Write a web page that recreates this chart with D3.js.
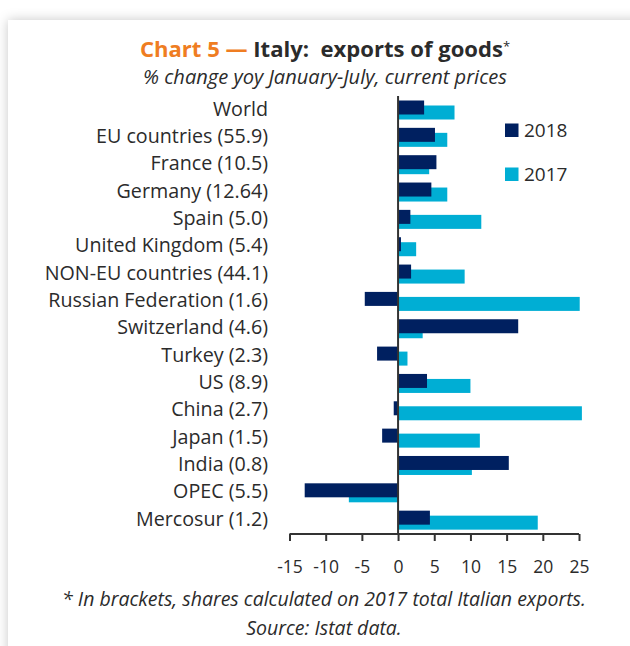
<!DOCTYPE html>
<html>
<head>
<meta charset="utf-8">
<script src="https://cdn.jsdelivr.net/npm/d3@7"></script>
<style>
  html, body { margin: 0; padding: 0; background: #ffffff; }
  svg { display: block; }
</style>
</head>
<body>
<svg id="chart" width="630" height="646"></svg>
<script>
// Categories (share of 2017 Italian exports in brackets)
const categories = [
  "World",
  "EU countries (55.9)",
  "France (10.5)",
  "Germany (12.64)",
  "Spain (5.0)",
  "United Kingdom (5.4)",
  "NON-EU countries (44.1)",
  "Russian Federation (1.6)",
  "Switzerland (4.6)",
  "Turkey (2.3)",
  "US (8.9)",
  "China (2.7)",
  "Japan (1.5)",
  "India (0.8)",
  "OPEC (5.5)",
  "Mercosur (1.2)"
];

// % change yoy, January-July
const values2018 = [3.6, 5.1, 5.3, 4.6, 1.7, 0.4, 1.8, -4.6, 16.6, -2.9, 4.0, -0.6, -2.2, 15.3, -12.9, 4.4];
const values2017 = [7.8, 6.8, 4.3, 6.8, 11.5, 2.5, 9.2, 25.1, 3.4, 1.3, 10.0, 25.4, 11.3, 10.2, -6.8, 19.3];

const xTicks = [-15, -10, -5, 0, 5, 10, 15, 20, 25];
const seriesNames = ["2018", "2017"];

const colors = { "2018": "#002060", "2017": "#00aed4" };
const textColor = "#2b2b2b";
const fontFamily = "'Open Sans', Lato, sans-serif";

const svg = d3.select("#chart");

// Fit a text element's font size so it spans the given width
function fitWidth(sel, target) {
  const node = sel.node();
  const size = parseFloat(sel.attr("font-size"));
  const w = node.getComputedTextLength();
  if (w > 0) sel.attr("font-size", (size * target / w).toFixed(2));
  return sel;
}

// Card with soft shadow along top and left edges
const defs = svg.append("defs");
const shadow = defs.append("filter").attr("id", "cardShadow")
  .attr("x", "-10%").attr("y", "-10%").attr("width", "130%").attr("height", "130%");
shadow.append("feDropShadow")
  .attr("dx", 0).attr("dy", 0).attr("stdDeviation", 6)
  .attr("flood-color", "#000").attr("flood-opacity", 0.22);

svg.append("rect").attr("x", 0).attr("y", 0).attr("width", 630).attr("height", 646).attr("fill", "#ffffff");
svg.append("rect")
  .attr("x", 8).attr("y", 20).attr("width", 700).attr("height", 700)
  .attr("fill", "#ffffff").attr("filter", "url(#cardShadow)");

// Title
const title = svg.append("text")
  .attr("x", 325).attr("y", 57)
  .attr("text-anchor", "middle")
  .attr("font-family", fontFamily)
  .attr("font-weight", 700)
  .attr("font-size", 20);
title.append("tspan").attr("fill", "#ef7d22").text("Chart 5 \u2014 ");
title.append("tspan").attr("fill", textColor).text("Italy:\u00a0 exports of goods");
title.append("tspan").attr("fill", textColor).attr("font-weight", 400)
  .attr("font-size", 13).attr("dy", -6).text("*");
fitWidth(title, 371);

const subtitle = svg.append("text")
  .attr("x", 325).attr("y", 84)
  .attr("text-anchor", "middle")
  .attr("font-family", fontFamily)
  .attr("font-style", "italic")
  .attr("font-size", 16)
  .attr("fill", textColor)
  .text("% change yoy January-July, current prices");
fitWidth(subtitle, 364);

// Scales
const x = d3.scaleLinear().domain([-15, 25]).range([289.5, 579]);
const y = d3.scaleBand().domain(categories).range([96.5, 534]).padding(0);

const barH = 14;
const offset2018 = 4;
const offset2017 = 9;

const rows = categories.map((c, i) => ({ cat: c, v2018: values2018[i], v2017: values2017[i] }));

// 2017 bars (behind)
svg.append("g").selectAll("rect")
  .data(rows).join("rect")
  .attr("x", d => x(Math.min(0, d.v2017)))
  .attr("y", d => y(d.cat) + offset2017)
  .attr("width", d => Math.abs(x(d.v2017) - x(0)))
  .attr("height", barH)
  .attr("fill", colors["2017"]);

// 2018 bars (front)
svg.append("g").selectAll("rect")
  .data(rows).join("rect")
  .attr("x", d => x(Math.min(0, d.v2018)))
  .attr("y", d => y(d.cat) + offset2018)
  .attr("width", d => Math.abs(x(d.v2018) - x(0)))
  .attr("height", barH)
  .attr("fill", colors["2018"]);

// Zero line
svg.append("line")
  .attr("x1", x(0)).attr("x2", x(0))
  .attr("y1", 96).attr("y2", 534)
  .attr("stroke", "#333").attr("stroke-width", 2);

// Category labels
const labels = svg.append("g").selectAll("text")
  .data(categories).join("text")
  .attr("x", 268)
  .attr("y", d => y(d) + 19)
  .attr("text-anchor", "end")
  .attr("font-family", fontFamily)
  .attr("font-size", 16.5)
  .attr("fill", textColor)
  .text(d => d);
// common size so that "EU countries (55.9)" spans about 172px
{
  const ref = labels.filter(d => d === "EU countries (55.9)");
  const w = ref.node().getComputedTextLength();
  const s = (16.5 * 172 / w).toFixed(2);
  labels.attr("font-size", s);
}

// X axis
const xAxis = d3.axisBottom(x).tickValues(xTicks).tickSize(7).tickPadding(20).tickFormat(d3.format("d"));
const gx = svg.append("g").attr("transform", "translate(0,534)").call(xAxis);
gx.select(".domain").attr("stroke", "#333").attr("stroke-width", 2).attr("d", `M${x(-15)},0H${x(25)}`);
gx.selectAll(".tick line").attr("stroke", "#333").attr("stroke-width", 2);
gx.selectAll(".tick text")
  .attr("font-family", fontFamily)
  .attr("font-size", 17.5)
  .attr("fill", textColor)
  .text(d => d < 0 ? "-" + Math.abs(d) : d);

// Legend
const legend = svg.append("g");
seriesNames.forEach((s, i) => {
  const ly = 123.5 + i * 44;
  legend.append("rect").attr("x", 505).attr("y", ly).attr("width", 13.5).attr("height", 13.5).attr("fill", colors[s]);
  legend.append("text")
    .attr("x", 524).attr("y", ly + 13.5)
    .attr("font-family", fontFamily).attr("font-size", 19)
    .attr("fill", textColor).text(s);
});

// Footnote
const foot = ["* In brackets, shares calculated on 2017 total Italian exports.", "Source: Istat data."];
const footText = svg.append("g").selectAll("text")
  .data(foot).join("text")
  .attr("x", 324).attr("y", (d, i) => 606 + i * 29)
  .attr("text-anchor", "middle")
  .attr("font-family", fontFamily)
  .attr("font-style", "italic")
  .attr("font-size", 16)
  .attr("fill", textColor)
  .text(d => d);
{
  const w = footText.filter((d, i) => i === 0).node().getComputedTextLength();
  footText.attr("font-size", (16 * 524 / w).toFixed(2));
}
</script>
</body>
</html>
